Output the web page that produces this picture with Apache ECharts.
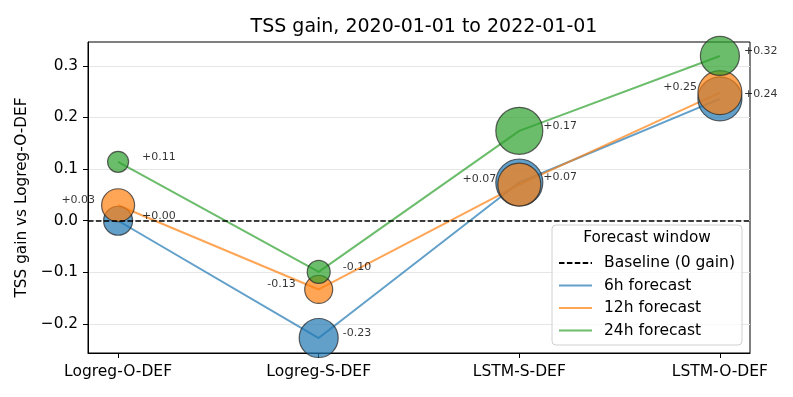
<!DOCTYPE html>
<html>
<head>
<meta charset="utf-8">
<script src="https://cdn.jsdelivr.net/npm/echarts@6/dist/echarts.min.js"></script>
<style>
  html, body { margin: 0; padding: 0; background: #fff; }
  #chart { width: 793px; height: 397px; }
</style>
</head>
<body>
<div id="chart"></div>
<script>
// models on the x axis
var categories = ['Logreg-O-DEF', 'Logreg-S-DEF', 'LSTM-S-DEF', 'LSTM-O-DEF'];

// TSS gain vs Logreg-O-DEF, per forecast window
var gain6h  = [0.000, -0.227, 0.074, 0.236];
var gain12h = [0.030, -0.133, 0.070, 0.248];
var gain24h = [0.114, -0.099, 0.174, 0.319];

// bubble sizes
var bubble6h  = [29, 39, 47, 44];
var bubble12h = [33, 28, 43, 44];
var bubble24h = [21, 23, 47, 39];

var yTicks = [-0.2, -0.1, 0.0, 0.1, 0.2, 0.3];

var FONT = 'DejaVu Sans';
var horizons = [
    { name: '6h forecast',  color: '#1f77b4', gain: gain6h,  size: bubble6h,  labelSide: 'right' },
    { name: '12h forecast', color: '#ff7f0e', gain: gain12h, size: bubble12h, labelSide: 'left' },
    { name: '24h forecast', color: '#2ca02c', gain: gain24h, size: bubble24h, labelSide: 'right' }
];

function fmtGain(v) {
    return (v >= 0 ? '+' : '-') + Math.abs(v).toFixed(2);
}

var series = [{
    name: 'Baseline (0 gain)',
    type: 'line',
    data: [],
    symbol: 'none',
    lineStyle: { color: '#000', width: 1.5, type: [5.5, 2.4] },
    itemStyle: { color: '#000' },
    markLine: {
        silent: true,
        symbol: ['none', 'none'],
        label: { show: false },
        lineStyle: { color: '#000', width: 1.5, type: [5.5, 2.4] },
        data: [{ yAxis: 0 }]
    },
    z: 2
}];

horizons.forEach(function (h) {
    var pts = h.gain.map(function (v, i) { return [i, v]; });
    series.push({
        name: h.name,
        type: 'line',
        data: pts,
        symbol: 'none',
        lineStyle: { color: h.color, width: 2, opacity: 0.7 },
        itemStyle: { color: h.color },
        z: 2
    });
    series.push({
        name: h.name,
        type: 'scatter',
        data: pts.map(function (p, i) { return { value: p, symbolSize: h.size[i] }; }),
        itemStyle: { color: h.color, opacity: 0.7, borderColor: '#222', borderWidth: 1.2 },
        clip: true,
        z: 3
    });
});

// value labels, kept outside the clipped bubble series
horizons.forEach(function (h) {
    var left = h.labelSide === 'left';
    series.push({
        name: h.name + ' label',
        type: 'scatter',
        data: h.gain.map(function (v, i) { return [i, v]; }),
        symbolSize: 1,
        itemStyle: { color: 'rgba(0,0,0,0)' },
        clip: false,
        silent: true,
        label: {
            show: true,
            position: 'inside',
            offset: [left ? -23 : 24, -5],
            align: left ? 'right' : 'left',
            verticalAlign: 'middle',
            fontFamily: FONT,
            fontSize: 11,
            color: '#000',
            formatter: function (p) { return fmtGain(p.value[1]); }
        },
        z: 5
    });
});

var chart = echarts.init(document.getElementById('chart'));
chart.setOption({
    animation: false,
    backgroundColor: '#fff',
    textStyle: { fontFamily: FONT },
    title: {
        text: 'TSS gain, 2020-01-01 to 2022-01-01',
        left: 419,
        textAlign: 'center',
        top: 13,
        textStyle: { fontFamily: FONT, fontSize: 19, fontWeight: 'normal', color: '#000' }
    },
    grid: {
        left: 88, right: 43, top: 42, bottom: 44,
        show: true, borderColor: '#000', borderWidth: 1, backgroundColor: 'transparent'
    },
    xAxis: {
        type: 'value',
        min: -0.15,
        max: 3.15,
        axisLine: { onZero: false, lineStyle: { color: '#000', width: 1 } },
        axisTick: { customValues: [0, 1, 2, 3], length: 5, lineStyle: { color: '#000' } },
        axisLabel: {
            customValues: [0, 1, 2, 3],
            margin: 11,
            fontFamily: FONT, fontSize: 15.5, color: '#000',
            formatter: function (v) { return categories[v]; }
        },
        splitLine: { show: false }
    },
    yAxis: {
        type: 'value',
        min: -0.256,
        max: 0.346,
        name: 'TSS gain vs Logreg-O-DEF',
        nameLocation: 'middle',
        nameGap: 55,
        nameTextStyle: { fontFamily: FONT, fontSize: 15.3, color: '#000' },
        axisLine: { show: true, onZero: false, lineStyle: { color: '#000', width: 1 } },
        axisTick: { customValues: yTicks, length: 5, lineStyle: { color: '#000' } },
        axisLabel: {
            customValues: yTicks,
            margin: 10,
            fontFamily: FONT, fontSize: 15.3, color: '#000',
            formatter: function (v) { return v.toFixed(1).replace('-', '\u2212'); }
        },
        splitLine: { show: true, lineStyle: { color: '#e6e6e6', width: 1 } }
    },
    legend: {
        data: ['Baseline (0 gain)', '6h forecast', '12h forecast', '24h forecast'],
        orient: 'vertical',
        left: 553,
        top: 250,
        itemWidth: 33,
        itemHeight: 14,
        itemGap: 6.5,
        itemStyle: { opacity: 0 },
        textStyle: { fontFamily: FONT, fontSize: 15.5, color: '#000', padding: [0, 0, 0, 7] },
        z: 20
    },
    graphic: [{
        type: 'rect',
        z: 15,
        shape: { x: 552, y: 225, width: 190, height: 120, r: 4 },
        style: { fill: 'rgba(255,255,255,0.8)', stroke: '#d0d0d0', lineWidth: 1 }
    }, {
        type: 'text',
        z: 16,
        x: 647,
        y: 238,
        style: {
            text: 'Forecast window', fontFamily: FONT, fontSize: 15.3, fill: '#000',
            align: 'center', verticalAlign: 'middle'
        }
    }],
    series: series
});
</script>
</body>
</html>
